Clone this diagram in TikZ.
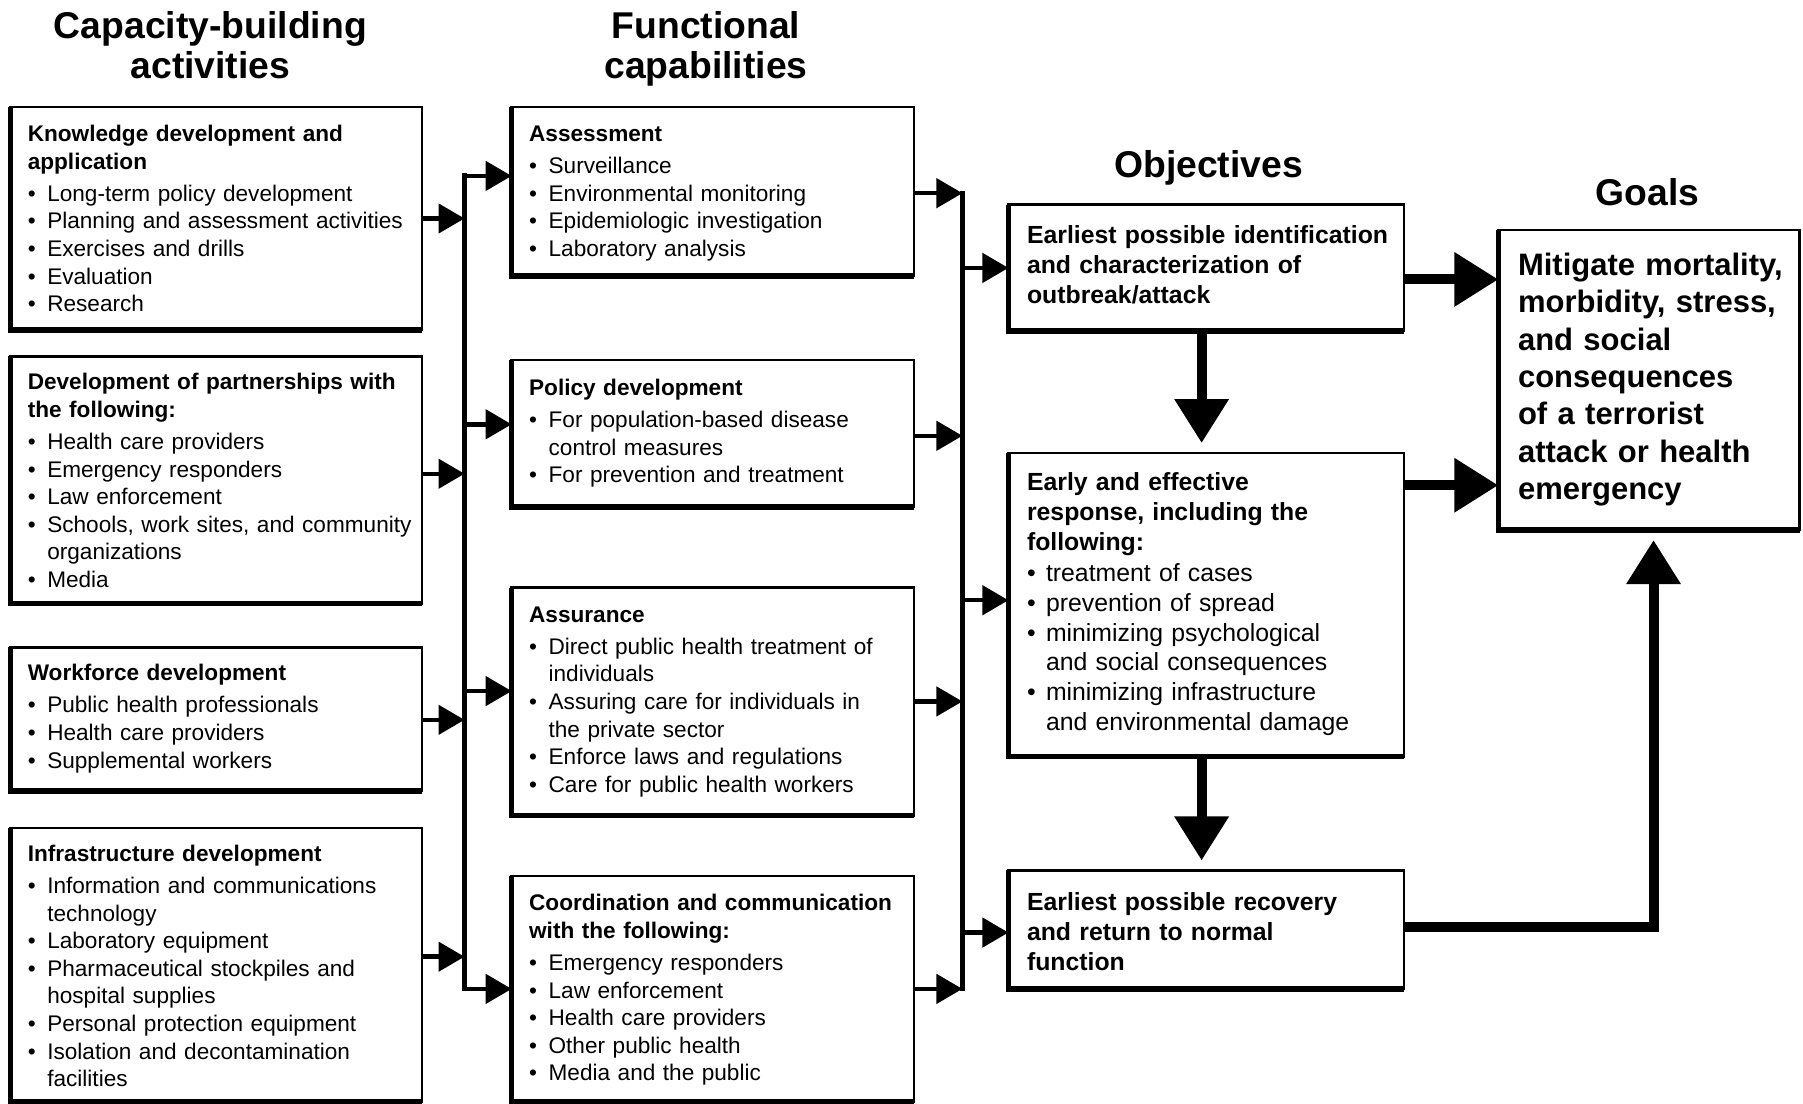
\documentclass[tikz,border=0pt]{standalone}
\usepackage{fontspec}
\setmainfont{Liberation Sans}
\usetikzlibrary{arrows.meta,calc}
\newlength\bulind
\newcommand\bhd[2][4.6pt]{{\bfseries #2\par}\vspace{#1}}
\newcommand\bit[1]{\hangindent=\bulind\hangafter=1\noindent\makebox[\bulind][l]{\textbullet}#1\par}
\newcommand\bx[5]{%
  \node[boxnode, minimum width={(#4-#2)*1.15pt}, minimum height={(#5-#3)*1.15pt}, anchor=north west] (#1) at (#2,#3) {};
  \draw[thickedge] (#1.north west) -- (#1.south west) -- (#1.south east);}
\tikzset{
  boxnode/.style={draw, line width=2.5pt, rectangle, inner sep=0pt, outer sep=0pt},
  thickedge/.style={line width=5.5pt, line join=miter},
  txt/.style={anchor=base west, inner sep=0pt, text width=#1,
    font=\fontsize{22.6}{27.6}\selectfont,
    execute at begin node={\raggedright\parindent=0pt\parskip=0pt\setlength\bulind{19.5pt}}},
  objtxt/.style={anchor=base west, inner sep=0pt, text width=#1,
    font=\fontsize{24.8}{29.9}\selectfont,
    execute at begin node={\raggedright\parindent=0pt\parskip=0pt\setlength\bulind{19pt}}},
  goaltxt/.style={anchor=base west, inner sep=0pt, text width=#1,
    font=\fontsize{31}{37.4}\selectfont\bfseries,
    execute at begin node={\raggedright\parindent=0pt\parskip=0pt}},
  hdr/.style={anchor=base, inner sep=0pt, text width=450pt, align=center,
    font=\fontsize{37.3}{40.3}\selectfont\bfseries},
  conn/.style={line width=4.5pt, -{Triangle[length=26pt,width=29pt]}},
  bus/.style={line width=5pt, line cap=rect},
  big/.style={line width=10pt, line join=miter, -{Triangle[length=44pt,width=52pt]}},
}
\begin{document}
\begin{tikzpicture}[x=1.15pt,y=-1.15pt]
\useasboundingbox[fill=white] (0,0) rectangle (1568,960);

% headers
\node[hdr] (h1) at (183,33.3) {Capacity-building\\activities};
\node[hdr] (h2) at (614,33.3) {Functional\\capabilities};
\node[hdr] (h3) at (1051,154.3) {Objectives};
\node[hdr] (h4) at (1433,178.3) {Goals};

% boxes
\bx{k1}{9}{93}{367}{287}
\bx{k2}{9}{310}{367}{525}
\bx{k3}{9}{563}{367}{688}
\bx{k4}{9}{720}{367}{958}
\bx{f1}{445}{93}{795}{240}
\bx{f2}{445}{313}{795}{441}
\bx{f3}{445}{511}{795}{709}
\bx{f4}{445}{762}{795}{958}
\bx{o1}{877}{178}{1221}{288}
\bx{o2}{877}{394}{1221}{658}
\bx{o3}{877}{757}{1221}{860}
\bx{g}{1303}{200}{1565}{461}

% texts
\node[txt=420pt] (k1t) at (24,123) {\bhd{Knowledge development and\newline application}
\bit{Long-term policy development}
\bit{Planning and assessment activities}
\bit{Exercises and drills}
\bit{Evaluation}
\bit{Research}};
\node[txt=420pt] (k2t) at (24,339) {\bhd{Development of partnerships with\newline the following:}
\bit{Health care providers}
\bit{Emergency responders}
\bit{Law enforcement}
\bit{Schools, work sites, and community\newline organizations}
\bit{Media}};
\node[txt=420pt] (k3t) at (24,592) {\bhd{Workforce development}
\bit{Public health professionals}
\bit{Health care providers}
\bit{Supplemental workers}};
\node[txt=420pt] (k4t) at (24,749) {\bhd{Infrastructure development}
\bit{Information and communications\newline technology}
\bit{Laboratory equipment}
\bit{Pharmaceutical stockpiles and\newline hospital supplies}
\bit{Personal protection equipment}
\bit{Isolation and decontamination\newline facilities}};

\node[txt=420pt] (f1t) at (460,123) {\bhd{Assessment}
\bit{Surveillance}
\bit{Environmental monitoring}
\bit{Epidemiologic investigation}
\bit{Laboratory analysis}};
\node[txt=420pt] (f2t) at (460,344) {\bhd{Policy development}
\bit{For population-based disease\newline control measures}
\bit{For prevention and treatment}};
\node[txt=420pt] (f3t) at (460,541) {\bhd{Assurance}
\bit{Direct public health treatment of\newline individuals}
\bit{Assuring care for individuals in\newline the private sector}
\bit{Enforce laws and regulations}
\bit{Care for public health workers}};
\node[txt=420pt] (f4t) at (460,792) {\bhd{Coordination and communication\newline with the following:}
\bit{Emergency responders}
\bit{Law enforcement}
\bit{Health care providers}
\bit{Other public health}
\bit{Media and the public}};

\node[objtxt=420pt] (o1t) at (893,211.6) {\bfseries Earliest possible identification\newline and characterization of\newline outbreak/attack};
\node[objtxt=420pt] (o2t) at (893,426.6) {\bhd[1pt]{Early and effective\newline response, including the\newline following:}
\bit{treatment of cases}
\bit{prevention of spread}
\bit{minimizing psychological\newline and social consequences}
\bit{minimizing infrastructure\newline and environmental damage}};
\node[objtxt=420pt] (o3t) at (893,791.6) {\bfseries Earliest possible recovery\newline and return to normal\newline function};

\node[goaltxt=330pt] (gt) at (1320,239.5) {Mitigate mortality,\newline morbidity, stress,\newline and social\newline consequences\newline of a terrorist\newline attack or health\newline emergency};

% buses
\coordinate (LB) at (404,0);
\coordinate (RB) at (837,0);
\draw[bus] (LB |- 0,153) -- (LB |- 0,860);
\draw[bus] (RB |- 0,168) -- (RB |- 0,860);

% left boxes to left bus
\draw[conn] (k1.east |- 0,190) -- (LB |- 0,190);
\draw[conn] (k2.east |- 0,412) -- (LB |- 0,412);
\draw[conn] (k3.east |- 0,626) -- (LB |- 0,626);
\draw[conn] (k4.east |- 0,832) -- (LB |- 0,832);
% left bus to middle boxes
\draw[conn] (LB |- 0,153) -- (f1.west |- 0,153);
\draw[conn] (LB |- 0,369) -- (f2.west |- 0,369);
\draw[conn] (LB |- 0,601) -- (f3.west |- 0,601);
\draw[conn] (LB |- 0,860) -- (f4.west |- 0,860);
% middle boxes to right bus
\draw[conn] (f1.east |- 0,168) -- (RB |- 0,168);
\draw[conn] (f2.east |- 0,379) -- (RB |- 0,379);
\draw[conn] (f3.east |- 0,610) -- (RB |- 0,610);
\draw[conn] (f4.east |- 0,860) -- (RB |- 0,860);
% right bus to objectives
\draw[conn] (RB |- 0,233) -- (o1.west |- 0,233);
\draw[conn] (RB |- 0,522) -- (o2.west |- 0,522);
\draw[conn] (RB |- 0,811) -- (o3.west |- 0,811);

% big arrows
\draw[big] (o1.east |- 0,243) -- (g.west |- 0,243);
\draw[big] (o2.east |- 0,422) -- (g.west |- 0,422);
\draw[big, shorten >=10pt] (o1.south -| 1045,0) -- (o2.north -| 1045,0);
\draw[big, shorten >=10pt] (o2.south -| 1045,0) -- (o3.north -| 1045,0);
\draw[big, shorten >=10pt] (o3.east |- 0,806) -| (g.south -| 1438,0);
\end{tikzpicture}
\end{document}
